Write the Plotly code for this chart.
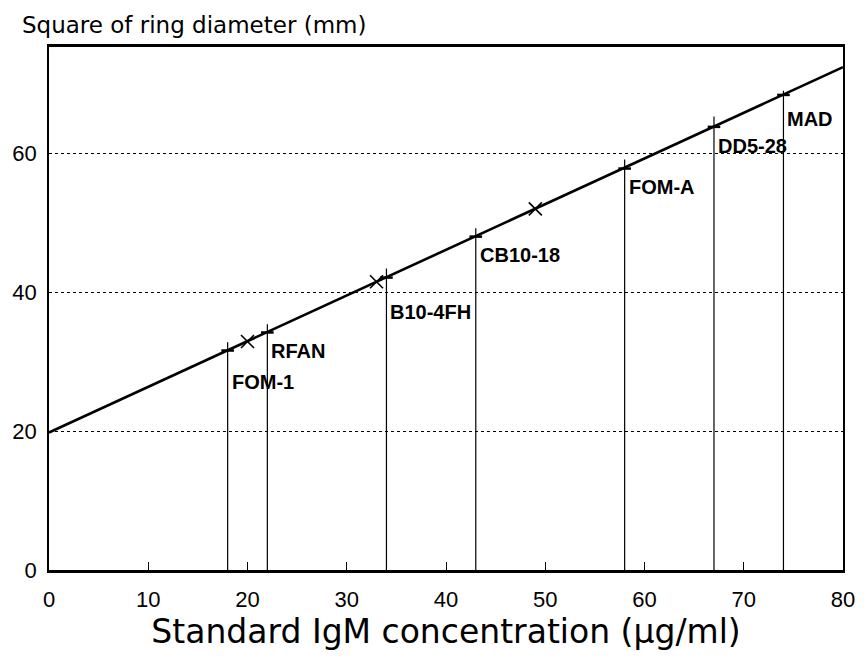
import plotly.graph_objects as go

# calibration line (end points)
line_x = [0, 80]
line_y = [19.8, 72.4]

# standards (X markers)
std_x = [20, 33, 49]
std_y = [32.9, 41.5, 52.0]

# samples: vertical drop lines
sample_names = ["FOM-1", "RFAN", "B10-4FH", "CB10-18", "FOM-A", "DD5-28", "MAD"]
sample_x = [18, 22, 34, 43, 58, 67, 74]
sample_top = [32.8, 35.4, 43.4, 49.2, 59.1, 65.3, 69.0]
sample_on_line = [31.6, 34.2, 42.1, 48.0, 57.8, 63.8, 68.4]
label_y = [29.0, 33.4, 39.0, 47.2, 57.0, 62.9, 66.8]

x_ticks = [0, 10, 20, 30, 40, 50, 60, 70, 80]
y_ticks = [0, 20, 40, 60]

fig = go.Figure()

# vertical drop lines
vx, vy = [], []
for xv, top in zip(sample_x, sample_top):
    vx += [xv, xv, None]
    vy += [0, top, None]
fig.add_trace(go.Scatter(x=vx, y=vy, mode="lines",
                         line=dict(color="black", width=1.2), hoverinfo="skip"))

# calibration line
fig.add_trace(go.Scatter(x=line_x, y=line_y, mode="lines",
                         line=dict(color="black", width=2.6)))

# small dashes at line intersections
fig.add_trace(go.Scatter(x=sample_x, y=sample_on_line, mode="markers",
                         marker=dict(symbol="line-ew", size=9,
                                     line=dict(color="black", width=2.5))))

# standards
fig.add_trace(go.Scatter(x=std_x, y=std_y, mode="markers",
                         marker=dict(symbol="x-thin", size=13,
                                     line=dict(color="black", width=1.6))))

for name, xv, yv in zip(sample_names, sample_x, label_y):
    fig.add_annotation(x=xv, y=yv, text="<b>" + name + "</b>", showarrow=False,
                       xanchor="left", yanchor="top", xshift=2,
                       font=dict(family="Liberation Sans, Arial", size=20, color="black"))

fig.add_annotation(x=-0.036, y=1.0, xref="paper", yref="paper", xanchor="left",
                   yanchor="bottom", yshift=7, showarrow=False,
                   text="Square of ring diameter (mm)",
                   font=dict(family="DejaVu Sans", size=23, color="black"))

fig.update_layout(
    width=867, height=659,
    margin=dict(l=48, r=16, t=47, b=89),
    paper_bgcolor="white", plot_bgcolor="white",
    showlegend=False,
    font=dict(family="Liberation Sans, Arial", color="black"),
    xaxis=dict(range=[0, 80], tickvals=x_ticks, ticks="inside", ticklen=8,
               tickwidth=1.2, tickcolor="black", showgrid=False, zeroline=False,
               showline=True, linecolor="black", linewidth=2.8, mirror=True,
               tickfont=dict(size=22), ticklabelstandoff=8,
               title=dict(text="Standard IgM concentration (µg/ml)",
                          font=dict(family="DejaVu Sans", size=33), standoff=8)),
    yaxis=dict(range=[0, 75.3], tickvals=y_ticks, ticks="", showgrid=True,
               gridcolor="black", griddash="dot", gridwidth=1.2, zeroline=False,
               showline=True, linecolor="black", linewidth=1.8, mirror=True,
               tickfont=dict(size=22), ticklabelstandoff=6),
)

fig.write_html("out.html")
